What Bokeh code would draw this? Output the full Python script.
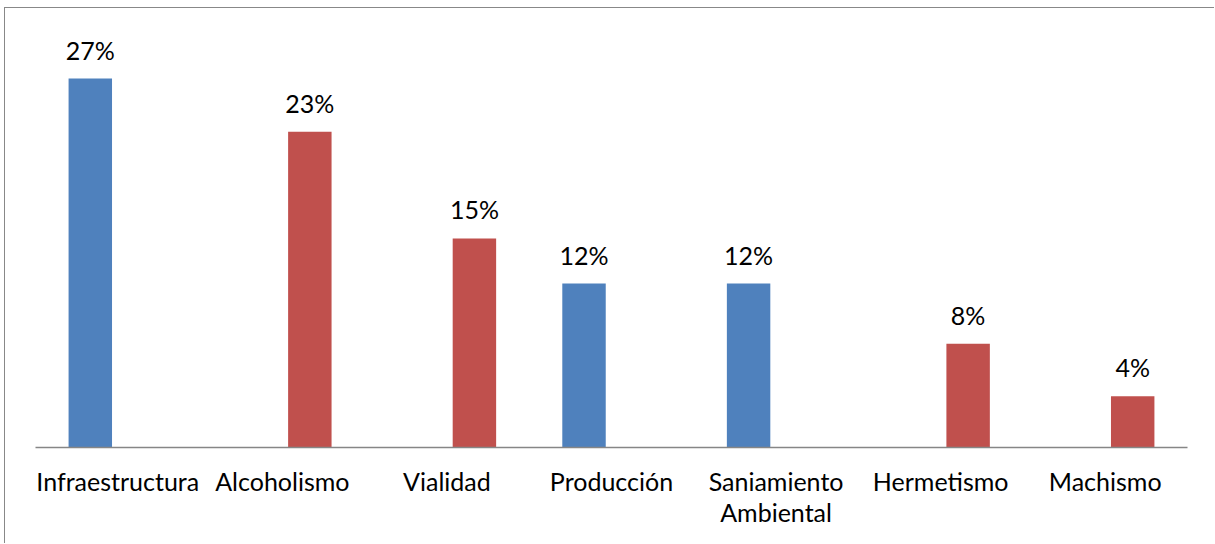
from bokeh.plotting import figure
from bokeh.models import ColumnDataSource, Range1d, FactorRange, LabelSet
from bokeh.transform import dodge
from bokeh.core.properties import value
from bokeh.embed import file_html
from bokeh.resources import INLINE

categories = ["Infraestructura", "Alcoholismo", "Vialidad", "Producción",
              "Saniamiento\nAmbiental", "Hermetismo", "Machismo"]
blue_values = [27.0, None, None, 12.0, 12.0, None, None]
red_values = [None, 23.1, 15.3, None, None, 7.6, 3.75]

BLUE = "#4F81BD"
RED = "#C0504D"
FONT = "Lato"


def make_source(values):
    cats = [c for c, v in zip(categories, values) if v is not None]
    vals = [v for v in values if v is not None]
    labels = [f"{round(v)}%" for v in vals]
    return ColumnDataSource(dict(cat=cats, val=vals, label=labels))


p = figure(x_range=FactorRange(factors=categories, range_padding=0),
           y_range=Range1d(0, 30),
           width=1210, height=536,
           output_backend="svg", toolbar_location=None,
           min_border_left=30, min_border_right=28,
           min_border_top=29, min_border_bottom=97)
p.styles = {"margin-left": "4px", "margin-top": "7px",
            "border-left": "1px solid #888888", "border-top": "1px solid #888888"}

p.outline_line_color = None
p.background_fill_color = "white"
p.border_fill_color = "white"
p.xgrid.visible = False
p.ygrid.visible = False
p.yaxis.visible = False

ax = p.xaxis[0]
ax.axis_line_color = "#868686"
ax.axis_line_width = 1.5
ax.major_tick_line_color = None
ax.minor_tick_line_color = None
ax.major_label_text_font = FONT
ax.major_label_text_font_size = "25px"
ax.major_label_text_color = "#000000"
ax.major_label_text_line_height = 1.05
ax.major_label_standoff = 12

for values, color, off in ((blue_values, BLUE, -0.167), (red_values, RED, 0.167)):
    src = make_source(values)
    p.vbar(x=dodge("cat", off, range=p.x_range), top="val", width=0.264,
           source=src, fill_color=color, line_color=None)
    labels = LabelSet(x=dodge("cat", off, range=p.x_range), y="val", text="label",
                      source=src, text_align="center", text_baseline="alphabetic",
                      y_offset=19, text_font=value(FONT), text_font_size=value("25px"),
                      text_color=value("#000000"))
    p.add_layout(labels)

open("out.html", "w").write(file_html(p, INLINE))
